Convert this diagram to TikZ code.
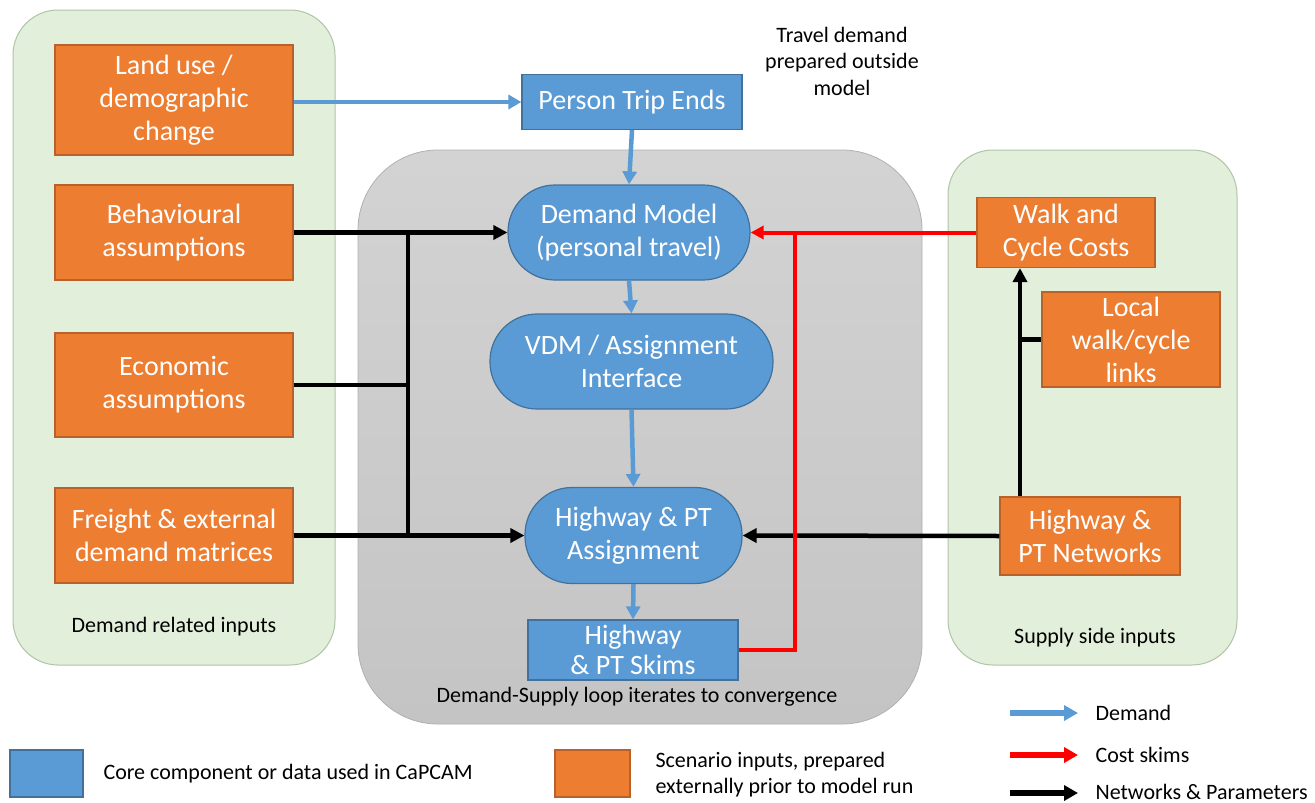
\documentclass[tikz,border=0pt]{standalone}
\usepackage{fontspec}
\setmainfont{Carlito}
\usetikzlibrary{arrows.meta,calc}
\definecolor{orng}{HTML}{ED7D31}
\definecolor{orngdark}{HTML}{B8612A}
\definecolor{blu}{HTML}{5B9BD5}
\definecolor{bludark}{HTML}{41719C}
\definecolor{panelgreen}{HTML}{E2EFDA}
\definecolor{panelgreenline}{HTML}{AFC4A6}
\definecolor{panelgraytop}{HTML}{D3D3D3}
\definecolor{panelgraybot}{HTML}{C4C4C4}
\definecolor{panelgrayline}{HTML}{B0B0B0}
\definecolor{arrblue}{HTML}{5B9BD5}
\definecolor{arrred}{HTML}{FF0000}
\begin{document}
\begin{tikzpicture}[x=1pt,y=-1pt,
  bigtext/.style={font=\fontsize{28}{33}\selectfont},
  smalltext/.style={font=\fontsize{22}{26.5}\selectfont, text=black, align=center},
  orangebox/.style={draw=orngdark, line width=1.2pt, fill=orng, text=white, bigtext, align=center, inner sep=0pt},
  bluebox/.style={draw=bludark, line width=1.2pt, fill=blu, text=white, bigtext, align=center, inner sep=0pt},
  greenpanel/.style={draw=panelgreenline, line width=1pt, fill=panelgreen, rounded corners=45pt, inner sep=0pt},
  graypanel/.style={draw=panelgrayline, line width=0.8pt, top color=panelgraytop, bottom color=panelgraybot, rounded corners=80pt, inner sep=0pt},
  bluearrow/.style={draw=arrblue, line width=4.5pt, -{Triangle[length=13pt,width=14pt]}},
  blackarrow/.style={draw=black, line width=4.5pt, -{Triangle[length=14pt,width=14pt]}},
  blackline/.style={draw=black, line width=4.5pt},
  redarrow/.style={draw=arrred, line width=4pt, -{Triangle[length=13pt,width=13pt]}},
  redline/.style={draw=arrred, line width=4pt},
  legarrow/.style={line width=6pt, -{Triangle[length=14pt,width=15pt]}},
]
\useasboundingbox (0,0) rectangle (1315,803);

% panels
\node[greenpanel, minimum width=322pt, minimum height=655pt] (leftpanel) at (174,337.5) {};
\node[graypanel, minimum width=564pt, minimum height=574pt] (midpanel) at (640,437) {};
\node[greenpanel, minimum width=289pt, minimum height=515pt] (rightpanel) at (1092.5,407.5) {};

% left inputs
\node[orangebox, minimum width=238pt, minimum height=110pt] (landuse) at (174,100) {Land use /\\demographic\\change};
\node[orangebox, minimum width=238pt, minimum height=95pt] (behav) at (174,232.5) {Behavioural\\assumptions};
\node[orangebox, minimum width=238pt, minimum height=104pt] (econ) at (174,385) {Economic\\assumptions};
\node[orangebox, minimum width=238pt, minimum height=95pt] (freight) at (174,535.5) {Freight \& external\\demand matrices};
\node[smalltext] (demlabel) at (174,627) {Demand related inputs};

% centre
\node[bluebox, minimum width=220pt, minimum height=55pt] (pte) at (632,102) {Person Trip Ends};
\node[smalltext] (travlabel) at (842,61) {Travel demand\\prepared outside\\model};
\node[bluebox, minimum width=242pt, minimum height=95pt, rounded corners=47pt] (dm) at (629,232.5) {Demand Model\\(personal travel)};
\node[bluebox, minimum width=283pt, minimum height=95pt, rounded corners=47pt] (vdm) at (631.5,361.5) {VDM / Assignment\\Interface};
\node[bluebox, minimum width=217pt, minimum height=96pt, rounded corners=47pt] (ha) at (633.5,535.5) {Highway \& PT\\Assignment};
\node[bluebox, minimum width=210pt, minimum height=60pt] (skims) at (633,650) {Highway\\[-3pt]\& PT Skims};
\node[smalltext] (looplabel) at (637,697) {Demand-Supply loop iterates to convergence};

% right inputs
\node[orangebox, minimum width=178pt, minimum height=70pt] (walk) at (1066,232.5) {Walk and\\Cycle Costs};
\node[orangebox, minimum width=178pt, minimum height=95pt] (local) at (1131,339.5) {Local\\walk/cycle\\links};
\node[orangebox, minimum width=180pt, minimum height=78pt] (net) at (1090,536) {Highway \&\\PT Networks};
\node[smalltext] (suplabel) at (1095,638) {Supply side inputs};

% bus coordinates
\coordinate (lbus) at (408,0);
\coordinate (rbus) at (1020,0);
\coordinate (redbus) at (795,0);

% demand (blue) arrows
\draw[bluearrow] (landuse.east |- pte.west) -- (pte.west);
\draw[bluearrow] (pte.south) -- (dm.north);
\draw[bluearrow] (dm.south) -- (vdm.north);
\draw[bluearrow] (vdm.south) -- (ha.north);
\draw[bluearrow] (ha.south) -- (skims.north);

% networks & parameters (black)
\draw[blackarrow] (behav.east) -- (dm.west);
\draw[blackline] (econ.east) -- (econ.east -| lbus);
\draw[blackline] (lbus |- behav.east) -- (lbus |- freight.east);
\draw[blackarrow] (freight.east) -- (ha.west);
\draw[blackarrow] (net.west) -- (ha.east);
\draw[blackarrow] (rbus |- net.north) -- (rbus |- walk.south);
\draw[blackline] (local.west) -- (local.west -| rbus);

% cost skims (red)
\draw[redline] (skims.east) -- (skims.east -| redbus) -- (redbus |- dm.east);
\draw[redarrow] (walk.west) -- (dm.east);

% legend
\node[bluebox, minimum width=73pt, minimum height=47pt] (legblue) at (46.5,773.5) {};
\node[smalltext, anchor=west] (legbluetext) at (100,774) {Core component or data used in CaPCAM};
\node[orangebox, minimum width=75pt, minimum height=47pt] (legorange) at (592.5,773.5) {};
\node[smalltext, anchor=west, align=left] (legorangetext) at (652,774.5) {Scenario inputs, prepared\\externally prior to model run};
\coordinate (lgDa) at (1010,713);
\coordinate (lgDb) at (1078,713);
\coordinate (lgCa) at (1010,755);
\coordinate (lgCb) at (1078,755);
\coordinate (lgNa) at (1010,793);
\coordinate (lgNb) at (1078,793);
\draw[legarrow, draw=arrblue] (lgDa) -- (lgDb);
\draw[legarrow, draw=arrred] (lgCa) -- (lgCb);
\draw[legarrow, draw=black] (lgNa) -- (lgNb);
\node[smalltext, anchor=west] (legD) at (1092,713) {Demand};
\node[smalltext, anchor=west] (legC) at (1092,755) {Cost skims};
\node[smalltext, anchor=west] (legN) at (1092,792) {Networks \& Parameters};
\end{tikzpicture}
\end{document}
